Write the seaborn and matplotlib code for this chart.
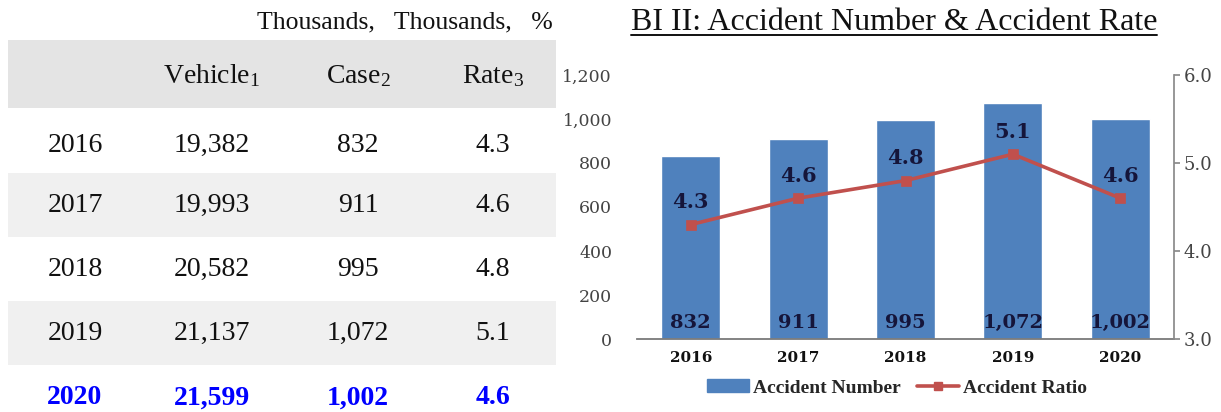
import numpy as np
import pandas as pd
import matplotlib
matplotlib.use('Agg')
import matplotlib.pyplot as plt
import seaborn as sns
from matplotlib.patches import Rectangle, Patch
from matplotlib.lines import Line2D

years = ['2016', '2017', '2018', '2019', '2020']
vehicles = [19382, 19993, 20582, 21137, 21599]
cases = [832, 911, 995, 1072, 1002]
rates = [4.3, 4.6, 4.8, 5.1, 4.6]

unit_note = 'Thousands,   Thousands,   %'
headers = ['Vehicle$_1$', 'Case$_2$', 'Rate$_3$']
chart_title = 'BI II: Accident Number & Accident Rate'
legend_labels = ['Accident Number', 'Accident Ratio']

bar_color = '#4F81BD'
line_color = '#C0504D'
label_color = '#15153a'
chart_font = ['DejaVu Serif']

sns.set_theme(style='white')
plt.rcParams['font.family'] = ['Liberation Serif', 'DejaVu Serif']
plt.rcParams['mathtext.fontset'] = 'custom'
plt.rcParams['mathtext.rm'] = 'Liberation Serif'
plt.rcParams['mathtext.it'] = 'Liberation Serif:italic'

df = pd.DataFrame({'year': years, 'vehicle': vehicles, 'case': cases, 'rate': rates})

W, H = 1221, 412
fig = plt.figure(figsize=(W / 100, H / 100), dpi=100)

# ---- table on the left (pixel-like coords) ----
tb = fig.add_axes([0, 0, 1, 1])
tb.set_xlim(0, W)
tb.set_ylim(H, 0)
tb.axis('off')

tb.add_patch(Rectangle((8, 40), 548, 68, color='#e4e4e4', lw=0))
row_y = [145, 205, 269, 333, 398]
for i, yc in enumerate(row_y):
    if i % 2 == 1:
        tb.add_patch(Rectangle((8, yc - 32), 548, 64, color='#f0f0f0', lw=0))

col_x = [75, 212, 358, 493]
tb.text(553, 22, unit_note, ha='right', va='center', fontsize=18.5, color='#111111')
for x, h in zip(col_x[1:], headers):
    tb.text(x, 76, h, ha='center', va='center', fontsize=20, color='#111111')

for i, row in df.iterrows():
    last = i == len(df) - 1
    kw = dict(ha='center', va='center', fontsize=20,
              color='#0000ff' if last else '#111111',
              fontweight='bold' if last else 'normal')
    vals = [row['year'], f"{row['vehicle']:,}", f"{row['case']:,}", f"{row['rate']:.1f}"]
    for x, v in zip(col_x, vals):
        tb.text(x, row_y[i], v, **kw)

# ---- chart on the right ----
ax = fig.add_axes([637 / W, 73 / H, 537 / W, 264 / H])
sns.barplot(data=df, x='year', y='case', color=bar_color, width=0.55,
            saturation=1, ax=ax)
ax.set_ylim(0, 1200)
ax.set_yticks(range(0, 1201, 200))
ax.set_yticklabels([f'{v:,}' for v in range(0, 1201, 200)], color='#444444',
                   fontsize=12.5, family=chart_font)
ax.set_xlabel('')
ax.set_ylabel('')
ax.tick_params(axis='y', length=0, pad=18)
ax.tick_params(axis='x', length=0, pad=9)
for lab in ax.get_xticklabels():
    lab.set_fontweight('bold')
    lab.set_fontsize(11)
    lab.set_family(chart_font)
    lab.set_color('#111111')
for s in ['left', 'top', 'right']:
    ax.spines[s].set_visible(False)
ax.spines['bottom'].set_color('#7a7a7a')
ax.spines['bottom'].set_linewidth(1.3)

for i, c in enumerate(cases):
    ax.annotate(f'{c:,}', (i, 0), xytext=(0, 5), textcoords='offset points',
                ha='center', va='bottom', fontsize=14, fontweight='bold',
                color=label_color, family=chart_font)

ax2 = ax.twinx()
sns.pointplot(data=df, x='year', y='rate', color=line_color, markers='s',
              markersize=6, linewidth=2.6, ax=ax2)
ax2.set_ylim(3, 6)
ax2.set_yticks([3, 4, 5, 6])
ax2.set_yticklabels([f'{v:.1f}' for v in [3, 4, 5, 6]], color='#444444',
                    fontsize=13, family=chart_font)
ax2.set_ylabel('')
ax2.set_xlabel('')
for s in ['left', 'top', 'bottom']:
    ax2.spines[s].set_visible(False)
ax2.spines['right'].set_color('#8a8a8a')
ax2.tick_params(axis='y', length=4, color='#8a8a8a', direction='out', pad=3)

for i, r in enumerate(rates):
    ax2.annotate(f'{r:.1f}', (i, r), xytext=(0, 9), textcoords='offset points',
                 ha='center', va='bottom', fontsize=15, fontweight='bold',
                 color=label_color, family=chart_font)

handles = [Patch(color=bar_color),
           Line2D([], [], color=line_color, lw=2.6, marker='s', markersize=6)]
fig.legend(handles, legend_labels, loc='center', bbox_to_anchor=(897 / W, 1 - 388 / H),
           ncol=2, frameon=False, handlelength=2.2, handleheight=0.6,
           columnspacing=0.8, handletextpad=0.2,
           prop={'weight': 'bold', 'size': 14})

title = fig.text(894 / W, 1 - 22 / H, chart_title, ha='center', va='center',
                 fontsize=23, color='#111111')
fig.canvas.draw()
bb = title.get_window_extent().transformed(fig.transFigure.inverted())
fig.add_artist(Line2D([bb.x0, bb.x1], [bb.y0 + 0.004, bb.y0 + 0.004],
                      transform=fig.transFigure, color='#111111', lw=1.4))

fig.savefig('out.png', dpi=100)
